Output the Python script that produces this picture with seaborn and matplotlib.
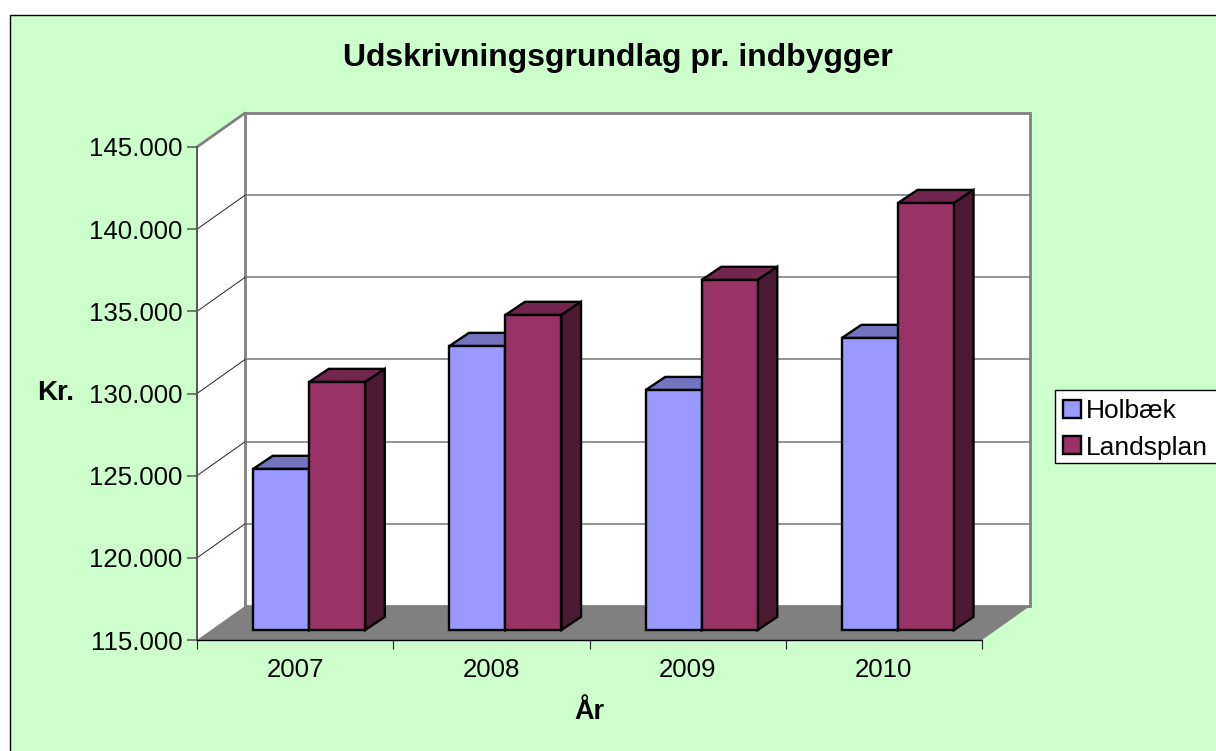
import matplotlib
matplotlib.use("Agg")
import matplotlib.pyplot as plt
from matplotlib.patches import Polygon, Rectangle
import pandas as pd
import seaborn as sns

years = ["2007", "2008", "2009", "2010"]
holbaek = [124800, 132280, 129600, 132770]
landsplan = [130090, 134170, 136300, 140980]
y_ticks = [115000, 120000, 125000, 130000, 135000, 140000, 145000]
y_labels = ["115.000", "120.000", "125.000", "130.000", "135.000", "140.000", "145.000"]

W, H = 1216, 751
BASE = y_ticks[0]
TOP = y_ticks[-1]
# depth of the fake 3d box, in data units
WALL_DX, WALL_DY = 0.245, 2070
BAR_DX, BAR_DY = 0.1, 800
GREY = "#808080"
FONT_SIZE = 18.6


def px_axes(fig, left, top, right, bottom):
    return fig.add_axes([left / W, 1 - bottom / H, (right - left) / W, (bottom - top) / H])


def shade(color, k):
    r, g, b = matplotlib.colors.to_rgb(color)
    return (r * k, g * k, b * k)


def main():
    sns.set_theme(style="white")
    plt.rcParams["font.family"] = ["Liberation Sans", "DejaVu Sans"]
    plt.rcParams.update({
        "text.color": "black",
        "axes.labelcolor": "black",
        "xtick.labelcolor": "black",
        "ytick.labelcolor": "black",
    })

    fig = plt.figure(figsize=(W / 100, H / 100), dpi=100, facecolor="white")
    fig.add_artist(Rectangle((9.5 / W, -0.01), 1.1, 1 - 14.5 / H + 0.01, transform=fig.transFigure,
                             facecolor="#CCFFCC", edgecolor="black", linewidth=1.0, zorder=-1))

    # front plane with the axis ticks, walls are drawn from it
    ax = px_axes(fig, 197, 147, 982, 640)
    ax.set_facecolor("none")
    ax.set_xlim(-0.5, 3.5)
    ax.set_ylim(BASE, TOP)
    x0, x1 = ax.get_xlim()

    ax.add_patch(Polygon([(x0, BASE), (x0 + WALL_DX, BASE + WALL_DY), (x0 + WALL_DX, TOP + WALL_DY), (x0, TOP)],
                         facecolor="white", edgecolor="none", clip_on=False, zorder=0))
    ax.add_patch(Rectangle((x0 + WALL_DX, BASE + WALL_DY), x1 - x0, TOP - BASE, facecolor="white",
                           edgecolor=GREY, linewidth=2, clip_on=False, zorder=0.5))
    ax.add_patch(Polygon([(x0, BASE), (x0 + WALL_DX, BASE + WALL_DY), (x1 + WALL_DX, BASE + WALL_DY), (x1, BASE)],
                         facecolor=GREY, edgecolor="none", clip_on=False, zorder=1))
    ax.plot([x0, x0 + WALL_DX], [TOP, TOP + WALL_DY], color=GREY, lw=2, clip_on=False, zorder=1)
    for t in y_ticks[1:-1]:
        ax.plot([x0, x0 + WALL_DX], [t, t + WALL_DY], color="#222222", lw=0.7, clip_on=False, zorder=1)
        ax.plot([x0 + WALL_DX, x1 + WALL_DX], [t + WALL_DY, t + WALL_DY], color="#777777", lw=1.1,
                clip_on=False, zorder=0.6)

    ax.set_yticks(y_ticks, y_labels, fontsize=FONT_SIZE)
    ax.set_xticks(range(len(years)), years, fontsize=FONT_SIZE)
    ax.set_xticks([i - 0.5 for i in range(len(years) + 1)], minor=True)
    ax.tick_params(axis="y", length=7, width=1.1, color="#555555", pad=3.6, left=True)
    ax.tick_params(axis="x", which="major", length=0, pad=13)
    ax.tick_params(axis="x", which="minor", length=6.5, width=0.8, color="#222222", bottom=True)
    for side in ["top", "right"]:
        ax.spines[side].set_visible(False)
    ax.spines["left"].set_color("#555555")
    ax.spines["left"].set_linewidth(1.4)
    ax.spines["bottom"].set_color("black")
    ax.spines["bottom"].set_linewidth(1.0)
    ax.set_xlabel("År", fontsize=19.5, fontweight="bold", labelpad=12)
    ax.set_ylabel("Kr.", fontsize=20, fontweight="bold", rotation=0, va="center", ha="center")
    ax.yaxis.set_label_coords((55.5 - 197) / 785, (640 - 393) / 493)

    fig.text(618 / W, 1 - 58 / H, "Udskrivningsgrundlag pr. indbygger", fontsize=23, fontweight="bold",
             ha="center", va="center")

    # bars sit a bit behind the front plane
    bar_ax = px_axes(fig, 197 + 14, 147 - 10, 982 + 14, 640 - 10)
    bar_ax.set_facecolor("none")
    df = pd.DataFrame({
        "year": years * 2,
        "value": holbaek + landsplan,
        "series": ["Holbæk"] * len(years) + ["Landsplan"] * len(years),
    })
    sns.barplot(data=df, x="year", y="value", hue="series", order=years, ax=bar_ax,
                palette={"Holbæk": "#9999FF", "Landsplan": "#993366"}, saturation=1,
                width=0.571, gap=0, edgecolor="black", linewidth=1.7, zorder=3)
    bar_ax.set_xlim(x0, x1)
    bar_ax.set_ylim(BASE, TOP)
    bar_ax.set_xlabel("")
    bar_ax.set_ylabel("")
    bar_ax.set_xticks([])
    bar_ax.set_yticks([])
    sns.despine(ax=bar_ax, left=True, bottom=True)

    for container in bar_ax.containers:
        for bar in container:
            top = bar.get_height()
            bar.set_y(BASE)
            bar.set_height(top - BASE)
            bar.set_clip_on(False)
            color = bar.get_facecolor()
            left = bar.get_x()
            right = left + bar.get_width()
            bar_ax.add_patch(Polygon([(left, top), (left + BAR_DX, top + BAR_DY),
                                      (right + BAR_DX, top + BAR_DY), (right, top)],
                                     facecolor=shade(color[:3], 0.75), edgecolor="black", linewidth=1.7,
                                     joinstyle="miter", clip_on=False, zorder=2))
            bar_ax.add_patch(Polygon([(right, BASE), (right + BAR_DX, BASE + BAR_DY),
                                      (right + BAR_DX, top + BAR_DY), (right, top)],
                                     facecolor=shade(color[:3], 0.5), edgecolor="black", linewidth=1.7,
                                     joinstyle="miter", clip_on=False, zorder=2))

    # legend box runs off the right edge in the original, so the frame is drawn separately
    bar_ax.add_patch(Rectangle((1054.5 / W, 1 - 462.5 / H), 170 / W, 73 / H, transform=fig.transFigure,
                               facecolor="white", edgecolor="black", linewidth=1.0, clip_on=False, zorder=4))
    handles, labels = bar_ax.get_legend_handles_labels()
    bar_ax.legend(handles, labels, loc="upper left", bbox_to_anchor=(1055 / W, 1 - 391 / H),
                  bbox_transform=fig.transFigure, borderaxespad=0, fontsize=19, frameon=False,
                  borderpad=0.3, handlelength=0.68, handleheight=0.68, handletextpad=0.18, labelspacing=0.48)

    plt.savefig("out.png", dpi=100)
    plt.close()


if __name__ == "__main__":
    main()
